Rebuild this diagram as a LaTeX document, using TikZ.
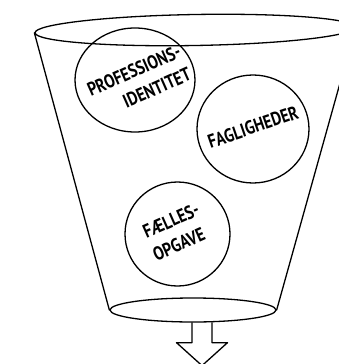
\documentclass[tikz,border=0pt]{standalone}
\usepackage{fontspec}
\usepackage{graphicx}
\setmainfont{PT Sans}
\usetikzlibrary{shapes.geometric,calc}
\newcommand\narrowtxt[1]{\scalebox{0.82}[1]{#1}}
\begin{document}
\begin{tikzpicture}[x=1pt,y=-1pt, line width=1.3pt, line join=round, line cap=round,
  blob/.style={draw, ellipse, inner sep=0pt},
  lbl/.style={font=\fontsize{19}{25}\selectfont\bfseries, inner sep=0pt}]
\useasboundingbox (0,0) rectangle (338,364);
% funnel
\node[blob, minimum width=320pt, minimum height=31pt, rotate=1] (top) at (195,30) {};
\node[blob, minimum width=166pt, minimum height=24pt] (bot) at (193,310) {};
\draw (top.west) -- (bot.west);
\draw (top.east) -- (bot.east);
% arrow
\coordinate (a) at ($(bot.south)+(9,0)$);
\draw ($(a)+(-10,0)$) -- ($(a)+(-10,20)$) -- ($(a)+(-25.5,20)$) -- ($(a)+(0,43)$)
  -- ($(a)+(25.5,20)$) -- ($(a)+(10,20)$) -- ($(a)+(10,0)$);
% circles
\node[blob, minimum width=120pt, minimum height=104pt] (c1) at (135,80) {};
\node[blob, minimum width=112pt, minimum height=108pt] (c2) at (253,129) {};
\node[blob, minimum width=105pt, minimum height=104pt] (c3) at (177.5,234) {};
% labels
\node[lbl, rotate=24, align=right] (t1) at (139,82) {\narrowtxt{PROFESSIONS-}\\\narrowtxt{IDENTITET}};
\node[lbl, rotate=19] (t2) at (253,127) {\narrowtxt{FAGLIGHEDER}};
\node[lbl, rotate=24, align=left] (t3) at (176,232) {\narrowtxt{FÆLLES-}\\\narrowtxt{OPGAVE}};
\end{tikzpicture}
\end{document}
